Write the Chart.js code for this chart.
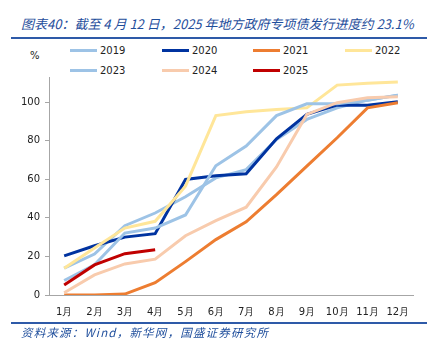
<!DOCTYPE html>
<html>
<head>
<meta charset="utf-8">
<script src="https://cdn.jsdelivr.net/npm/chart.js@4/dist/chart.umd.min.js"></script>
<style>
    html, body { margin: 0; padding: 0; background: #fff; }
    body { width: 444px; height: 359px; position: relative; overflow: hidden; font-family: "DejaVu Sans", sans-serif; }
    .title { position: absolute; left: 21px; top: 14px; font: italic 13px "Noto Sans CJK SC", sans-serif; color: #1F4E9C; white-space: nowrap; }
    .rule { position: absolute; left: 11px; width: 416px; height: 2px; background: #2E5AA8; }
    .unit { position: absolute; left: 30px; top: 50px; font-size: 10px; color: #222; }
    .legend { position: absolute; font-size: 10px; color: #222; display: flex; align-items: center; }
    .legend i { display: inline-block; width: 27px; height: 3px; margin-right: 3px; }
    .source { position: absolute; left: 21px; top: 324px; font: italic 11.5px "Noto Sans CJK SC", sans-serif; letter-spacing: 1.2px; color: #1F4E9C; white-space: nowrap; }
    #wrap { position: absolute; left: 0; top: 0; width: 444px; height: 359px; }
</style>
</head>
<body>
<div class="title">图表40：截至 4 月 12 日，2025 年地方政府专项债发行进度约 23.1%</div>
<div class="rule" style="top:37px"></div>
<div class="unit">%</div>
<div id="legend"></div>
<div id="wrap"><canvas id="chart"></canvas></div>
<div class="rule" style="top:322px"></div>
<div class="source">资料来源：Wind，新华网，国盛证券研究所</div>
<script>
const months = ['1月', '2月', '3月', '4月', '5月', '6月', '7月', '8月', '9月', '10月', '11月', '12月'];
const years = ['2019', '2020', '2021', '2022', '2023', '2024', '2025'];
const colors = ['#9DC3E6', '#0033A0', '#ED7D31', '#FFE699', '#9DC3E6', '#F8CBAD', '#C00000'];

const s2019 = [13.9, 21.2, 35.9, 42.5, 50.9, 60.7, 65, 80.6, 91, 97, 101, 103.6];
const s2020 = [20.3, 25.5, 30, 31.8, 59.9, 61.8, 62.8, 81, 93.6, 98.4, 98.4, 100.2];
const s2021 = [0, 0, 0.5, 6.4, 17.3, 28.7, 37.9, 52, 66.8, 81.5, 97, 99.7];
const s2022 = [13.9, 24.4, 34.7, 38.2, 56.4, 93, 95, 96.2, 97, 108.8, 109.7, 110.4];
const s2023 = [7.5, 15.6, 32.1, 34.7, 41.5, 67, 77.2, 93, 99.1, 99.1, 101, 103.6];
const s2024 = [1.2, 10.4, 16.1, 18.6, 30.7, 38.5, 45.5, 66.4, 93.6, 99.7, 102.2, 102.8];
const s2025 = [5.2, 15.6, 21.4, 23.4];
const series = [s2019, s2020, s2021, s2022, s2023, s2024, s2025];

const yTicks = [0, 20, 40, 60, 80, 100];

// legend in two rows, four columns
const legendCols = [70, 162, 253, 345];
const legendEl = document.getElementById('legend');
years.forEach((y, i) => {
    const item = document.createElement('div');
    item.className = 'legend';
    item.style.left = legendCols[i % 4] + 'px';
    item.style.top = (i < 4 ? 45 : 65) + 'px';
    item.innerHTML = '<i style="background:' + colors[i] + '"></i>' + y;
    legendEl.appendChild(item);
});

const axisColor = '#A6A6A6';
const tickFont = { family: 'DejaVu Sans', size: 10 };

new Chart(document.getElementById('chart'), {
    type: 'line',
    data: {
        labels: months,
        datasets: years.map((y, i) => ({
            label: y,
            data: series[i],
            borderColor: colors[i],
            backgroundColor: colors[i],
            borderWidth: 3,
            pointRadius: 0,
            tension: 0,
            fill: false
        })).reverse()
    },
    options: {
        responsive: true,
        maintainAspectRatio: false,
        animation: false,
        layout: { padding: { top: 77, right: 31, bottom: 39, left: 0 } },
        plugins: { legend: { display: false }, tooltip: { enabled: false } },
        scales: {
            x: {
                offset: true,
                grid: { display: false },
                border: { display: true, color: axisColor, width: 1 },
                ticks: { font: tickFont, color: '#222', padding: 3, maxRotation: 0, autoSkip: false },
                afterFit: (s) => { s.height = 25; }
            },
            y: {
                min: 0,
                max: 113,
                grid: { drawOnChartArea: false, drawTicks: true, tickLength: 4, color: axisColor },
                border: { display: true, color: axisColor, width: 1 },
                ticks: { font: tickFont, color: '#222', padding: 5 },
                afterBuildTicks: (s) => { s.ticks = yTicks.map((v) => ({ value: v })); },
                afterFit: (s) => { s.width = 49; }
            }
        }
    }
});
</script>
</body>
</html>
